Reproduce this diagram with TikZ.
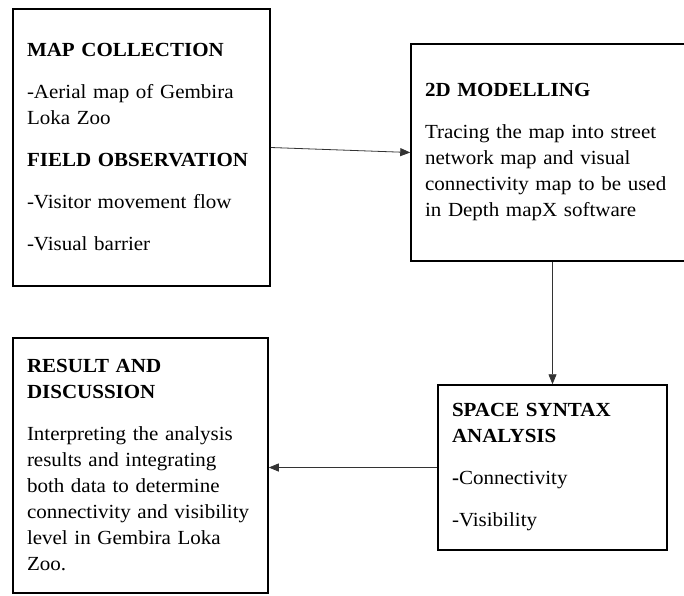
\documentclass[tikz,border=0pt]{standalone}
\usepackage{fontspec}
\setmainfont{Liberation Serif}[FakeStretch=1.05]
\usetikzlibrary{arrows.meta}

\begin{document}
\begin{tikzpicture}[x=1pt,y=-1pt]
\tikzstyle{bloc}=[rectangle,draw,line width=1.5pt,inner xsep=14pt,inner ysep=0pt,
align=left,font=\fontsize{20}{26}\selectfont]
\tikzstyle{suite}=[-{Triangle[length=10pt,width=8pt]},line width=0.8pt,draw=black!80]

\useasboundingbox (0,0) rectangle (684,595);
\clip (0,0) rectangle (684,595);

\node[bloc,minimum width=257pt,minimum height=277pt,text width=229pt] (collecte) at (141.5,147.5)
{\textbf{MAP COLLECTION}\\[16pt]
-Aerial map of Gembira\\
Loka Zoo\\[16pt]
\textbf{FIELD OBSERVATION}\\[16pt]
-Visitor movement flow\\[16pt]
-Visual barrier};

\node[bloc,minimum width=294pt,minimum height=217pt,text width=266pt] (modele) at (558,152.5)
{\textbf{2D MODELLING}\\[16pt]
Tracing the map into street\\
network map and visual\\
connectivity map to be used\\
in Depth mapX software};

\node[bloc,minimum width=229pt,minimum height=165pt,text width=201pt] (analyse) at (552.5,467.5)
{\textbf{SPACE SYNTAX}\\
\textbf{ANALYSIS}\\[16pt]
\textbf{-}Connectivity\\[16pt]
-Visibility};

\node[bloc,minimum width=255pt,minimum height=255pt,text width=227pt] (resultat) at (140.5,465.5)
{\textbf{RESULT AND}\\
\textbf{DISCUSSION}\\[16pt]
Interpreting the analysis\\
results and integrating\\
both data to determine\\
connectivity and visibility\\
level in Gembira Loka\\
Zoo.};

\draw[suite] (collecte.east) -- (modele.west);
\draw[suite] (analyse.north |- modele.south) -- (analyse.north);
\draw[suite] (analyse.west) -- (analyse.west -| resultat.east);

\end{tikzpicture}
\end{document}
